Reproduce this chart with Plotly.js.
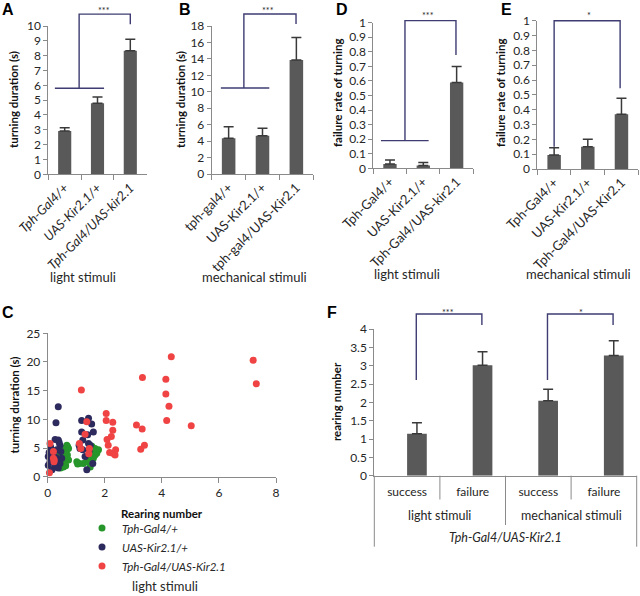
<!DOCTYPE html>
<html><head><meta charset="utf-8">
<script src="https://cdn.plot.ly/plotly-3.0.1.min.js"></script>
<style>html,body{margin:0;padding:0;background:#fff}</style>
</head><body><div id="chart" style="width:640px;height:596px"></div>
<script>
// ---------------- data ----------------
const genotypesA = ['Tph-Gal4/+', 'UAS-Kir2.1/+', 'Tph-Gal4/UAS-kir2.1'];
const durationLightMean = [2.92, 4.79, 8.33];
const durationLightErr = [0.22, 0.42, 0.78];

const genotypesB = ['tph-gal4/+', 'UAS-Kir2.1/+', 'tph-gal4/UAS-Kir2.1'];
const durationMechMean = [4.34, 4.66, 13.87];
const durationMechErr = [1.41, 0.90, 2.73];

const genotypesD = ['Tph-Gal4/+', 'UAS-Kir2.1/+', 'Tph-Gal4/UAS-kir2.1'];
const failureLightMean = [0.030, 0.020, 0.590];
const failureLightErr = [0.027, 0.020, 0.110];

const genotypesE = ['Tph-Gal4/+', 'UAS-Kir2.1/+', 'Tph-Gal4/UAS-Kir2.1'];
const failureMechMean = [0.094, 0.150, 0.369];
const failureMechErr = [0.050, 0.050, 0.108];

const outcomeKeys = ['light success', 'light failure', 'mechanical success', 'mechanical failure'];
const outcomeLabels = ['success', 'failure', 'success', 'failure'];
const stimulusGroups = ['light stimuli', 'mechanical stimuli'];
const genotypeF = 'Tph-Gal4/UAS-Kir2.1';
const rearingMean = [1.145, 3.01, 2.045, 3.28];
const rearingErr = [0.30, 0.37, 0.315, 0.40];

const scatterNames = ['Tph-Gal4/+', 'UAS-Kir2.1/+', 'Tph-Gal4/UAS-Kir2.1'];
const greenRearing = [0.55,0.67,0.69,0.73,0.61,0.55,0.49,0.67,0.73,0.43,0.57,0.37,0.62,0.70,0.45,0.63,
  1.02,1.11,1.43,1.54,1.66,1.72,1.60,1.49,1.37,1.66,1.25,1.78,1.55,1.47,1.05,1.70];
const greenDuration = [4.9,4.7,3.8,2.9,2.3,1.7,2.9,5.5,4.9,3.8,3.2,2.0,4.2,5.2,1.5,1.9,
  2.6,2.3,2.9,4.7,4.9,4.1,3.2,1.7,2.6,3.8,2.3,4.7,5.3,3.6,2.2,4.4];
const navyRearing = [0.37,0.29,0.26,0.37,0.43,0.14,0.32,0.46,0.02,0.08,0.32,0.02,0.26,0.37,0.49,0.43,0.20,0.10,0.30,0.40,0.15,0.05,
  1.19,1.43,1.54,1.60,1.19,1.23,1.13,1.23,1.43,1.49,1.31,1.37,1.58,1.40,1.10,1.45];
const navyDuration = [12.2,9.4,6.5,6.4,5.5,4.7,4.7,4.4,3.5,2.6,2.6,2.0,1.7,1.5,3.2,2.3,3.9,5.2,3.3,6.0,1.2,4.2,
  9.8,10.2,9.2,7.8,7.8,6.4,4.9,4.7,5.8,5.5,3.5,1.2,2.3,7.3,5.5,4.5];
const redRearing = [4.33,7.20,7.31,3.32,4.14,4.14,4.25,4.17,5.03,3.11,3.31,3.39,3.26,
  2.05,2.05,2.28,2.28,2.23,2.08,2.12,2.17,2.38,2.36,2.28,
  1.18,1.37,1.31,1.11,1.16,1.46,1.44,0.08,0.20,0.20,0.22,0.06,0.23];
const redDuration = [20.9,20.3,16.2,17.3,17.0,14.4,12.3,9.8,8.9,9.0,8.3,5.5,4.8,
  11.0,9.8,9.5,8.1,7.0,6.5,5.5,4.2,4.7,3.8,4.1,
  15.1,9.6,7.4,5.8,4.9,4.9,4.0,5.8,4.4,3.2,2.6,0.7,2.9];

// ---------------- layout geometry (pixels) ----------------
const W = 640, H = 596;
const FONT = 'Lato, "Open Sans", sans-serif';
const LETTER = '"Liberation Sans", Arial, sans-serif';
const TXT = '#262626';
const AXC = '#8a8a8a';
const BAR = '#595959';
const BRK = '#3e3c72';
const P = {
  A: {x:[48.3,146.7], y:[26,174.3], yr:[0,10], n:3},
  B: {x:[211.7,313.3], y:[26,174], yr:[0,18], n:3},
  C: {x:[47.7,276], y:[333.3,476.7], yr:[0,25], xr:[0,8]},
  D: {x:[373.3,473.3], y:[22.7,168.3], yr:[0,1], n:3},
  E: {x:[537.3,638.3], y:[20.7,169], yr:[0,1], n:3},
  F: {x:[374.3,636.7], y:[329,475.7], yr:[0,4], n:4}
};
function dx(p){ return [p.x[0]/W, p.x[1]/W]; }
function dy(p){ return [1 - p.y[1]/H, 1 - p.y[0]/H]; }
function catPx(p, i){ return p.x[0] + (i + 0.5) / p.n * (p.x[1] - p.x[0]); }
function valPy(p, v){ return p.y[1] - (v - p.yr[0]) / (p.yr[1] - p.yr[0]) * (p.y[1] - p.y[0]); }
function pathFrom(p, pts){
  return pts.map((q, k) => (k ? 'L' : 'M') + (catPx(p, q[0]) / W).toFixed(5) + ',' + (1 - valPy(p, q[1]) / H).toFixed(5)).join(' ');
}
function bracket(p, pts){
  return {type:'path', xref:'paper', yref:'paper', path: pathFrom(p, pts), line:{color:BRK, width:1.4}};
}
function vline(p, i, pyEnd){
  const xp = catPx(p, i) / W;
  return {type:'line', xref:'paper', yref:'paper', x0:xp, x1:xp, y0:1 - p.y[1]/H, y1:1 - pyEnd/H, line:{color:AXC, width:1}};
}
function ann(text, px, py, font, extra){
  return Object.assign({text, x: px/W, y: 1 - py/H, xref:'paper', yref:'paper', showarrow:false,
    xanchor:'center', yanchor:'middle', font: Object.assign({family:FONT, size:12, color:TXT}, font || {})}, extra || {});
}

// ---------------- traces ----------------
function barTrace(cats, mean, err, xa, ya, extra){
  return Object.assign({type:'bar', x:cats, y:mean, xaxis:xa, yaxis:ya, width:0.4, showlegend:false,
    marker:{color:BAR}, hoverinfo:'skip',
    error_y:{type:'data', symmetric:false, array:err, arrayminus:err.map(() => 0), color:'#3a3a3a', thickness:1.5, width:5}}, extra || {});
}
const traces = [
  barTrace(genotypesA, durationLightMean, durationLightErr, 'x', 'y'),
  barTrace(genotypesB, durationMechMean, durationMechErr, 'x2', 'y2'),
  barTrace(genotypesD, failureLightMean, failureLightErr, 'x4', 'y4'),
  barTrace(genotypesE, failureMechMean, failureMechErr, 'x5', 'y5'),
  barTrace(outcomeKeys, rearingMean, rearingErr, 'x6', 'y6', {width:0.3, offset:0}),
  {type:'scatter', mode:'markers', name:scatterNames[0], x:greenRearing, y:greenDuration, xaxis:'x3', yaxis:'y3',
    marker:{color:'#26952a', size:7}, cliponaxis:false, hoverinfo:'skip'},
  {type:'scatter', mode:'markers', name:scatterNames[1], x:navyRearing, y:navyDuration, xaxis:'x3', yaxis:'y3',
    marker:{color:'#2d2a5e', size:7}, cliponaxis:false, hoverinfo:'skip'},
  {type:'scatter', mode:'markers', name:scatterNames[2], x:redRearing, y:redDuration, xaxis:'x3', yaxis:'y3',
    marker:{color:'#f04444', size:7}, cliponaxis:false, hoverinfo:'skip'}
];

// ---------------- axes ----------------
const base = {showline:true, linecolor:AXC, linewidth:1, ticks:'outside', tickcolor:AXC, ticklen:4,
  showgrid:false, zeroline:false, fixedrange:true, tickfont:{family:FONT, size:12, color:TXT}};
function catX(p, cats, anchor, italic){
  return Object.assign({}, base, {domain:dx(p), anchor, type:'category', range:[-0.5, p.n - 0.5],
    tickson:'boundaries', ticklen:5, tickangle:-45, tickvals:cats,
    ticktext: cats.map(c => italic ? '<i>' + c + '</i>' : c),
    tickfont:{family:FONT, size:13, color:TXT}});
}
function valY(p, dtick, anchor){
  return Object.assign({}, base, {domain:dy(p), anchor, range:p.yr, tick0:0, dtick});
}
const layout = {
  width:W, height:H, margin:{l:0, r:0, t:0, b:0}, paper_bgcolor:'#fff', plot_bgcolor:'rgba(0,0,0,0)',
  hovermode:false, showlegend:true,
  legend:{x:82/W, y:1 - 547/H, xanchor:'left', yanchor:'middle', bgcolor:'rgba(0,0,0,0)',
    font:{family:FONT, size:11.5, color:TXT, style:'italic'}, itemwidth:30, tracegroupgap:0},
  xaxis: catX(P.A, genotypesA, 'y', true),
  yaxis: valY(P.A, 1, 'x'),
  xaxis2: catX(P.B, genotypesB, 'y2', false),
  yaxis2: valY(P.B, 2, 'x2'),
  xaxis3: Object.assign({}, base, {domain:dx(P.C), anchor:'y3', range:P.C.xr, tick0:0, dtick:2, ticklen:5}),
  yaxis3: valY(P.C, 5, 'x3'),
  xaxis4: catX(P.D, genotypesD, 'y4', false),
  yaxis4: valY(P.D, 0.1, 'x4'),
  xaxis5: catX(P.E, genotypesE, 'y5', false),
  yaxis5: valY(P.E, 0.1, 'x5'),
  xaxis6: Object.assign({}, base, {domain:dx(P.F), anchor:'y6', type:'category', range:[-0.5, 3.5],
    ticks:'', tickvals:outcomeKeys, ticktext:outcomeLabels, ticklabelstandoff:5,
    tickfont:{family:FONT, size:12, color:TXT}}),
  yaxis6: valY(P.F, 0.5, 'x6'),
  shapes: [
    bracket(P.A, [[-0.3,5.8],[1.2,5.8]]),
    bracket(P.A, [[0.44,5.8],[0.44,10.8],[2,10.8],[2,10.12]]),
    bracket(P.B, [[-0.23,10.46],[1.2,10.46]]),
    bracket(P.B, [[0.45,10.46],[0.45,19.46],[1.99,19.46],[1.99,18.25]]),
    bracket(P.D, [[-0.27,0.19],[1.16,0.19]]),
    bracket(P.D, [[0.45,0.19],[0.45,1.014],[1.98,1.014],[1.98,0.778]]),
    bracket(P.E, [[0,0.15],[0,1.0],[1.96,1.0],[1.96,0.544]]),
    bracket(P.F, [[0.14,2.61],[0.14,4.41],[1.14,4.41],[1.14,4.11]]),
    bracket(P.F, [[2.14,2.61],[2.14,4.41],[3.14,4.41],[3.14,4.11]]),
    // category dividers under panel F
    vline(P.F, -0.5, 546.7),
    vline(P.F, 0.5, 499.5),
    vline(P.F, 1.5, 525),
    vline(P.F, 2.5, 499.5),
    vline(P.F, 3.5, 546.7)
  ],
  annotations: [
    ann('A', 8, 9, {family:LETTER, size:16, color:'#000', weight:'bold'}),
    ann('B', 184.5, 9, {family:LETTER, size:16, color:'#000', weight:'bold'}),
    ann('D', 342, 9, {family:LETTER, size:16, color:'#000', weight:'bold'}),
    ann('E', 506, 9, {family:LETTER, size:16, color:'#000', weight:'bold'}),
    ann('C', 8, 312, {family:LETTER, size:16, color:'#000', weight:'bold'}),
    ann('F', 332, 312, {family:LETTER, size:16, color:'#000', weight:'bold'}),
    ann('turning duration (s)', 14, 100, {size:11.5, weight:'bold', color:'#111'}, {textangle:-90}),
    ann('turning duration (s)', 181, 100, {size:11.5, weight:'bold', color:'#111'}, {textangle:-90}),
    ann('failure rate of turning', 337, 93, {size:11.5, weight:'bold', color:'#111'}, {textangle:-90}),
    ann('failure rate of turning', 500, 93, {size:11.5, weight:'bold', color:'#111'}, {textangle:-90}),
    ann('turning duration (s)', 13.5, 405, {size:11.5, weight:'bold', color:'#111'}, {textangle:-90}),
    ann('rearing number', 336, 402, {size:11.5, weight:'bold', color:'#111'}, {textangle:-90}),
    ann('Rearing number', 161.7, 513, {size:11.5, weight:'bold', color:'#111'}),
    ann(stimulusGroups[0], 83, 277, {size:13}),
    ann(stimulusGroups[1], 254, 277, {size:13}),
    ann(stimulusGroups[0], 406.7, 274, {size:13}),
    ann(stimulusGroups[1], 578.3, 274, {size:13}),
    ann(stimulusGroups[0], 165, 586, {size:13}),
    ann(stimulusGroups[0], catPx(P.F, 0.5), 515, {size:12.5}),
    ann(stimulusGroups[1], catPx(P.F, 2.5), 515, {size:12.5}),
    ann('<i>' + genotypeF + '</i>', catPx(P.F, 1.5), 537.5, {size:12.5}),
    ann('***', catPx(P.A, 1.2), 10, {size:9}),
    ann('***', catPx(P.B, 1.17), 10, {size:9}),
    ann('***', catPx(P.D, 1.15), 15, {size:9}),
    ann('*', catPx(P.E, 1.04), 15, {size:9}),
    ann('***', catPx(P.F, 0.62), 312, {size:9}),
    ann('*', catPx(P.F, 2.65), 312, {size:9})
  ]
};
Plotly.newPlot('chart', traces, layout, {staticPlot:true, displayModeBar:false});
</script>
</body></html>
